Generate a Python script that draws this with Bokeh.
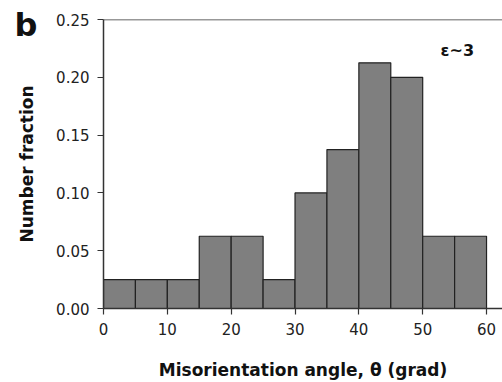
from bokeh.plotting import figure
from bokeh.models import Span, Label, FixedTicker, NumeralTickFormatter, Range1d, LinearAxis
from bokeh.embed import file_html
from bokeh.resources import INLINE

bin_left = [0, 5, 10, 15, 20, 25, 30, 35, 40, 45, 50, 55]
bin_right = [5, 10, 15, 20, 25, 30, 35, 40, 45, 50, 55, 60]
fraction = [0.025, 0.025, 0.025, 0.0625, 0.0625, 0.025, 0.1, 0.1375, 0.2125, 0.2, 0.0625, 0.0625]
x_ticks = [0, 10, 20, 30, 40, 50, 60]
y_ticks = [0.0, 0.05, 0.10, 0.15, 0.20, 0.25]
panel_letter = "b"

FONT = "DejaVu Sans"

p = figure(width=502, height=382, output_backend="svg", toolbar_location=None,
           x_range=Range1d(0, 62.5), y_range=Range1d(0, 0.25),
           min_border_left=103, min_border_right=0, min_border_top=19, min_border_bottom=73)
p.outline_line_color = None
p.grid.visible = False
p.background_fill_color = "white"
p.border_fill_color = "white"

p.quad(left=bin_left, right=bin_right, bottom=0, top=fraction,
       fill_color="#7f7f7f", line_color="#222222", line_width=1.2)

p.add_layout(Span(location=0.25, dimension="width", line_color="#333333", line_width=1.5))

for ax in (p.xaxis[0], p.yaxis[0]):
    ax.axis_line_color = "#333333"
    ax.axis_line_width = 1.5
    ax.major_tick_line_color = "#333333"
    ax.major_tick_line_width = 1.2
    ax.major_tick_out = 6
    ax.major_tick_in = 0
    ax.minor_tick_line_color = None
    ax.major_label_text_font = FONT
    ax.major_label_text_font_size = "15px"
    ax.major_label_text_color = "#222222"
    ax.axis_label_text_font = FONT
    ax.axis_label_text_font_size = "17px"
    ax.axis_label_text_font_style = "bold"
    ax.axis_label_text_color = "#111111"

p.xaxis.ticker = FixedTicker(ticks=x_ticks)
p.yaxis.ticker = FixedTicker(ticks=y_ticks)
p.yaxis.formatter = NumeralTickFormatter(format="0.00")
p.xaxis.axis_label = "Misorientation angle, θ (grad)"
p.xaxis.major_label_standoff = 8
p.yaxis.major_label_standoff = 8
p.xaxis.axis_label_standoff = 22

# outer left axis: carries the panel letter and the y axis title
outer = LinearAxis(ticker=FixedTicker(ticks=[0.245]),
                   major_label_overrides={0.245: panel_letter},
                   axis_line_color=None, major_tick_line_color=None,
                   minor_tick_line_color=None, major_tick_out=0, major_tick_in=0,
                   major_label_standoff=16,
                   major_label_text_font=FONT, major_label_text_font_size="32px",
                   major_label_text_font_style="bold", major_label_text_color="#111111",
                   axis_label="Number fraction", axis_label_standoff=-25,
                   axis_label_text_font=FONT, axis_label_text_font_size="17px",
                   axis_label_text_font_style="bold", axis_label_text_color="#111111")
p.add_layout(outer, "left")

p.add_layout(Label(x=52.8, y=0.2147, text="ε~3", text_font=FONT, text_font_size="16px",
                   text_font_style="bold", text_color="#111111"))

open("out.html", "w").write(file_html(p, INLINE))
